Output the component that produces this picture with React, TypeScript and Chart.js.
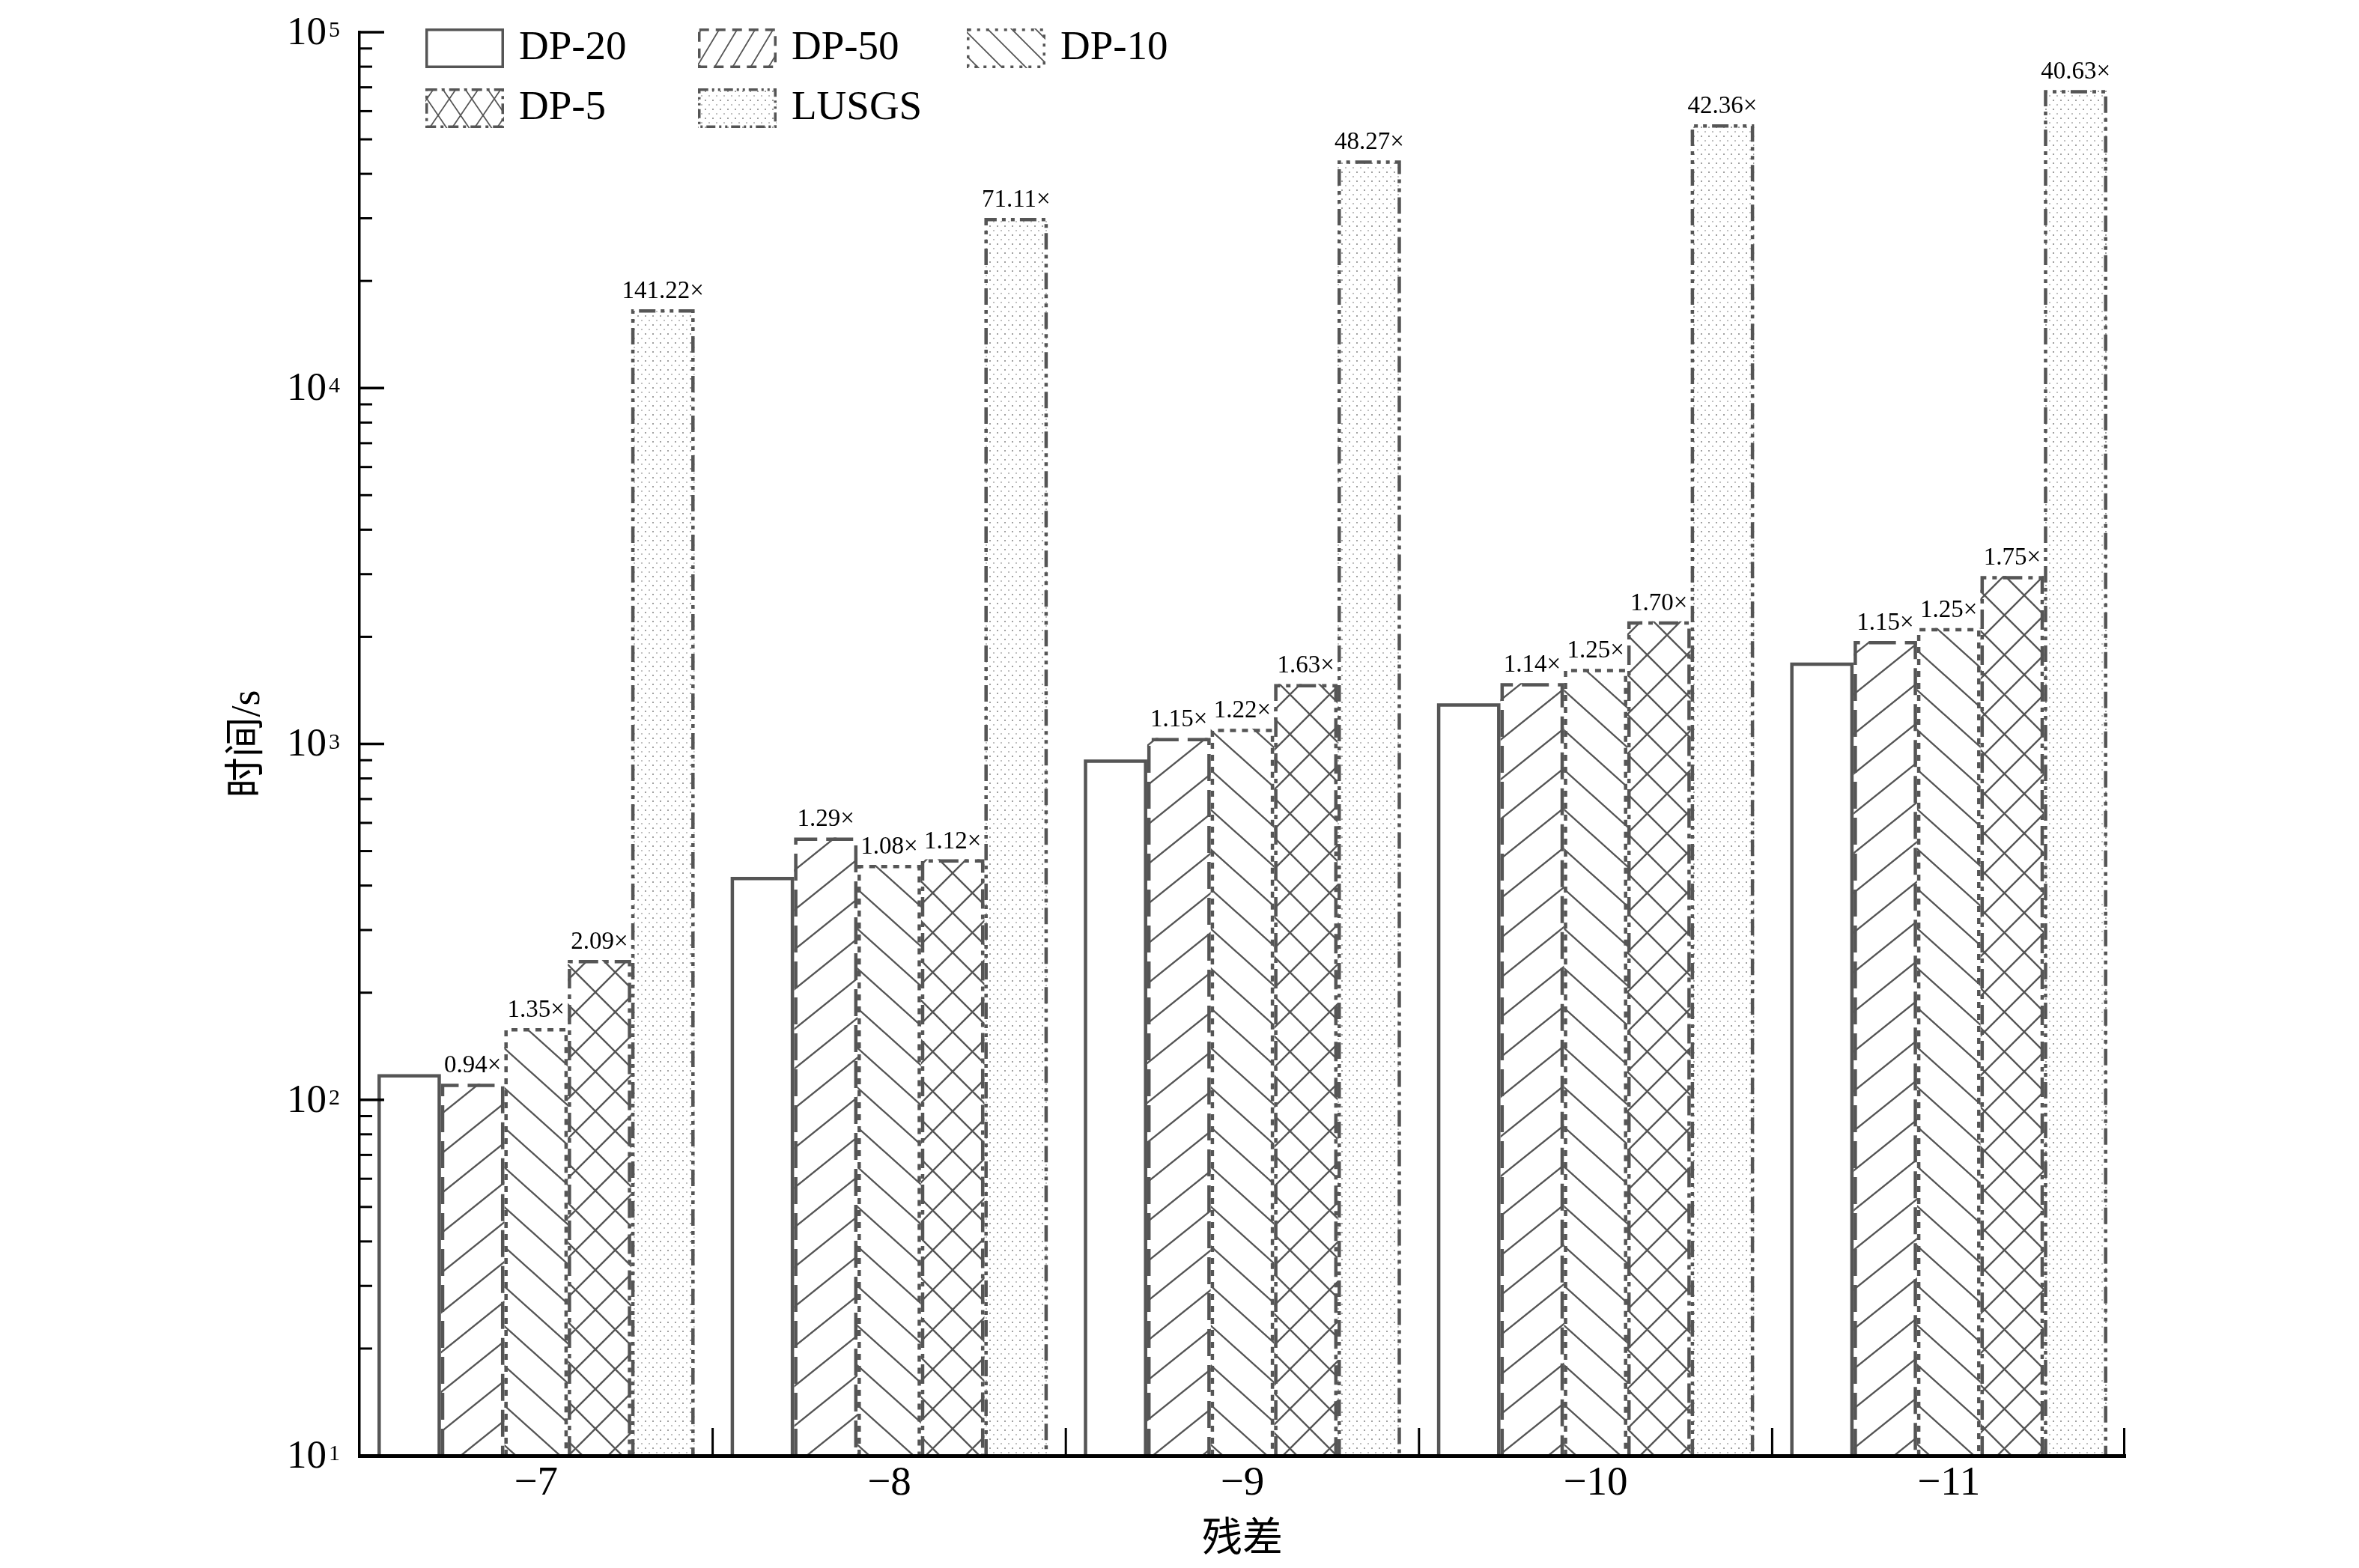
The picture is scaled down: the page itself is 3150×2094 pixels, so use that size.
import { useEffect, useRef } from "react";
import { Chart, registerables } from "chart.js";

Chart.register(...registerables);

// categories (residual exponent) and series
const categories = ["−7", "−8", "−9", "−10", "−11"];
const seriesNames = ["DP-20", "DP-50", "DP-10", "DP-5", "LUSGS"];

const dp20 = [118, 423, 904, 1301, 1693];
const dp50 = [111, 546, 1040, 1483, 1947];
const dp10 = [159, 457, 1103, 1626, 2116];
const dp5 = [247, 474, 1474, 2212, 2963];
const lusgs = [16660, 30080, 43640, 55110, 68790];

// ratio labels drawn above the bars (relative to DP-20)
const dp50Ratio = [0.94, 1.29, 1.15, 1.14, 1.15];
const dp10Ratio = [1.35, 1.08, 1.22, 1.25, 1.25];
const dp5Ratio = [2.09, 1.12, 1.63, 1.7, 1.75];
const lusgsRatio = [141.22, 71.11, 48.27, 42.36, 40.63];

// y axis: 10^1 .. 10^5
const yTickExponents = [1, 2, 3, 4, 5];

const serif = "'Liberation Serif', 'Times New Roman', serif";
const cjk = "'Liberation Serif', 'Noto Sans CJK SC', serif";
const lineColor = "#555555";

type Hatch = "none" | "slash" | "back" | "cross" | "dots";
const hatches: Hatch[] = ["none", "slash", "back", "cross", "dots"];
const barDashes = [[], [36, 12], [8, 8], [26, 8, 6, 8], [22, 7, 5, 7, 5, 7]];
const legendDashes = [[], [13, 9], [4, 8], [14, 6, 4, 6], [12, 5, 3, 5, 3, 5]];

function makeFill(kind: Hatch, w: number, h: number, lw: number): string | CanvasPattern {
  if (kind === "none") return "#ffffff";
  const c = document.createElement("canvas");
  c.width = w;
  c.height = h;
  const g = c.getContext("2d")!;
  g.fillStyle = "#ffffff";
  g.fillRect(0, 0, w, h);
  if (kind === "dots") {
    g.fillStyle = "#a0a0a0";
    g.fillRect(1, 1, 2, 2);
    g.fillStyle = "#c0c0c0";
    g.fillRect(6, 7, 2, 2);
    return g.createPattern(c, "repeat")!;
  }
  g.strokeStyle = lineColor;
  g.lineWidth = lw;
  g.beginPath();
  if (kind === "slash" || kind === "cross") {
    for (const k of [0, 1, 2]) {
      g.moveTo(-w, k * h + h);
      g.lineTo(2 * w, k * h - 2 * h);
    }
  }
  if (kind === "back" || kind === "cross") {
    for (const k of [-1, 0, 1]) {
      g.moveTo(-w, k * h - h);
      g.lineTo(2 * w, k * h + 2 * h);
    }
  }
  g.stroke();
  return g.createPattern(c, "repeat")!;
}

export default function App() {
  const canvasRef = useRef<HTMLCanvasElement>(null);

  useEffect(() => {
    const seriesData = [dp20, dp50, dp10, dp5, lusgs];
    const ratios = [null, dp50Ratio, dp10Ratio, dp5Ratio, lusgsRatio];

    const barSizes = [[1, 1], [66, 53], [59, 53], [53, 53], [10, 12]];
    const legendSizes = [[1, 1], [24, 40], [32, 32], [30, 44], [10, 12]];
    const barFills = hatches.map((k, i) => makeFill(k, barSizes[i][0], barSizes[i][1], 2.4));
    const legendFills = hatches.map((k, i) => makeFill(k, legendSizes[i][0], legendSizes[i][1], 1.8));

    const decor = {
      id: "decor",
      afterDatasetsDraw(chart: Chart) {
        const ctx = chart.ctx;
        ctx.save();
        chart.data.datasets.forEach((_, di) => {
          const meta = chart.getDatasetMeta(di);
          meta.data.forEach((el: any, i: number) => {
            const { x, y, base, width } = el.getProps(["x", "y", "base", "width"], true);
            const lw = 4.5;
            const l = x - width / 2 + lw / 2;
            const r = x + width / 2 - lw / 2;
            ctx.strokeStyle = lineColor;
            ctx.lineWidth = lw;
            ctx.setLineDash(barDashes[di]);
            ctx.beginPath();
            ctx.moveTo(l, base);
            ctx.lineTo(l, y + lw / 2);
            ctx.lineTo(r, y + lw / 2);
            ctx.lineTo(r, base);
            ctx.stroke();
            const rs = ratios[di];
            if (rs) {
              ctx.setLineDash([]);
              ctx.fillStyle = "#000";
              ctx.font = `33px ${serif}`;
              ctx.textAlign = "center";
              ctx.textBaseline = "alphabetic";
              ctx.fillText(rs[i].toFixed(2) + "×", x, y - 15);
            }
          });
        });
        ctx.restore();
      },
      afterDraw(chart: Chart) {
        const ctx = chart.ctx;
        const area = chart.chartArea;
        const ys: any = chart.scales.y;
        const xs: any = chart.scales.x;
        ctx.save();
        ctx.strokeStyle = "#000";
        ctx.fillStyle = "#000";
        // y ticks (inward) and labels 10^n
        yTickExponents.forEach((e) => {
          const py = ys.getPixelForValue(Math.pow(10, e));
          ctx.lineWidth = 3.5;
          ctx.beginPath();
          ctx.moveTo(area.left, py);
          ctx.lineTo(area.left + 33, py);
          ctx.stroke();
          if (e < yTickExponents[yTickExponents.length - 1]) {
            for (let k = 2; k <= 9; k++) {
              const pm = ys.getPixelForValue(k * Math.pow(10, e));
              ctx.lineWidth = 3;
              ctx.beginPath();
              ctx.moveTo(area.left, pm);
              ctx.lineTo(area.left + 17, pm);
              ctx.stroke();
            }
          }
          ctx.font = `53px ${serif}`;
          ctx.textAlign = "right";
          ctx.textBaseline = "middle";
          ctx.fillText("10", area.left - 44, py + 2);
          ctx.font = `30px ${serif}`;
          ctx.textAlign = "left";
          ctx.textBaseline = "alphabetic";
          ctx.fillText(String(e), area.left - 41, py + 6);
        });
        // x boundary ticks (inward)
        const n = categories.length;
        ctx.lineWidth = 3;
        for (let i = 0; i < n; i++) {
          const bx =
            i < n - 1
              ? (xs.getPixelForValue(i) + xs.getPixelForValue(i + 1)) / 2
              : area.right - 1.5;
          ctx.beginPath();
          ctx.moveTo(bx, area.bottom);
          ctx.lineTo(bx, area.bottom - 37);
          ctx.stroke();
        }
        // legend
        const cols = [568, 932, 1291];
        const rows = [38, 118];
        seriesNames.forEach((name, i) => {
          const bx = cols[i % 3];
          const by = rows[Math.floor(i / 3)];
          const bw = 105;
          const bh = 53;
          ctx.fillStyle = legendFills[i] as any;
          ctx.fillRect(bx, by, bw, bh);
          ctx.strokeStyle = lineColor;
          ctx.lineWidth = 3.5;
          ctx.setLineDash(legendDashes[i]);
          ctx.strokeRect(bx + 1.75, by + 1.75, bw - 3.5, bh - 3.5);
          ctx.setLineDash([]);
          ctx.fillStyle = "#000";
          ctx.font = `55px ${serif}`;
          ctx.textAlign = "left";
          ctx.textBaseline = "middle";
          ctx.fillText(name, bx + bw + 20, by + bh / 2);
        });
        ctx.restore();
      },
    };

    const chart = new Chart(canvasRef.current!, {
      type: "bar",
      data: {
        labels: categories,
        datasets: seriesNames.map((name, i) => ({
          label: name,
          data: seriesData[i],
          backgroundColor: barFills[i] as any,
          borderWidth: 0,
          categoryPercentage: 0.898,
          barPercentage: 1,
        })),
      },
      options: {
        animation: false,
        responsive: true,
        maintainAspectRatio: false,
        layout: { padding: { left: 295, right: 312, top: 43, bottom: 0 } },
        plugins: {
          legend: { display: false },
          tooltip: { enabled: false },
        },
        scales: {
          x: {
            type: "category",
            offset: true,
            grid: { display: false, drawTicks: false },
            border: { display: true, color: "#000", width: 5, z: 1 },
            ticks: {
              color: "#000",
              font: { family: serif, size: 55 },
              padding: 5,
              maxRotation: 0,
              autoSkip: false,
            },
            title: {
              display: true,
              text: "残差",
              color: "#000",
              font: { family: cjk, size: 54 },
              padding: { top: 4, bottom: 4 },
            },
            afterFit: (s: any) => {
              s.height = 150;
            },
          },
          y: {
            type: "logarithmic",
            min: 10,
            max: 100000,
            grid: { display: false, drawTicks: false },
            border: { display: true, color: "#000", width: 3.5, z: 1 },
            ticks: { display: false },
            title: {
              display: true,
              text: "时间/s",
              color: "#000",
              font: { family: cjk, size: 54 },
              padding: { top: 4, bottom: 4 },
            },
            afterFit: (s: any) => {
              s.width = 185;
            },
          },
        },
      },
      plugins: [decor],
    });

    return () => {
      chart.destroy();
    };
  }, []);

  return (
    <div style={{ position: "absolute", left: 0, top: 0, width: 3150, height: 2094, background: "#fff" }}>
      <canvas ref={canvasRef} />
    </div>
  );
}
